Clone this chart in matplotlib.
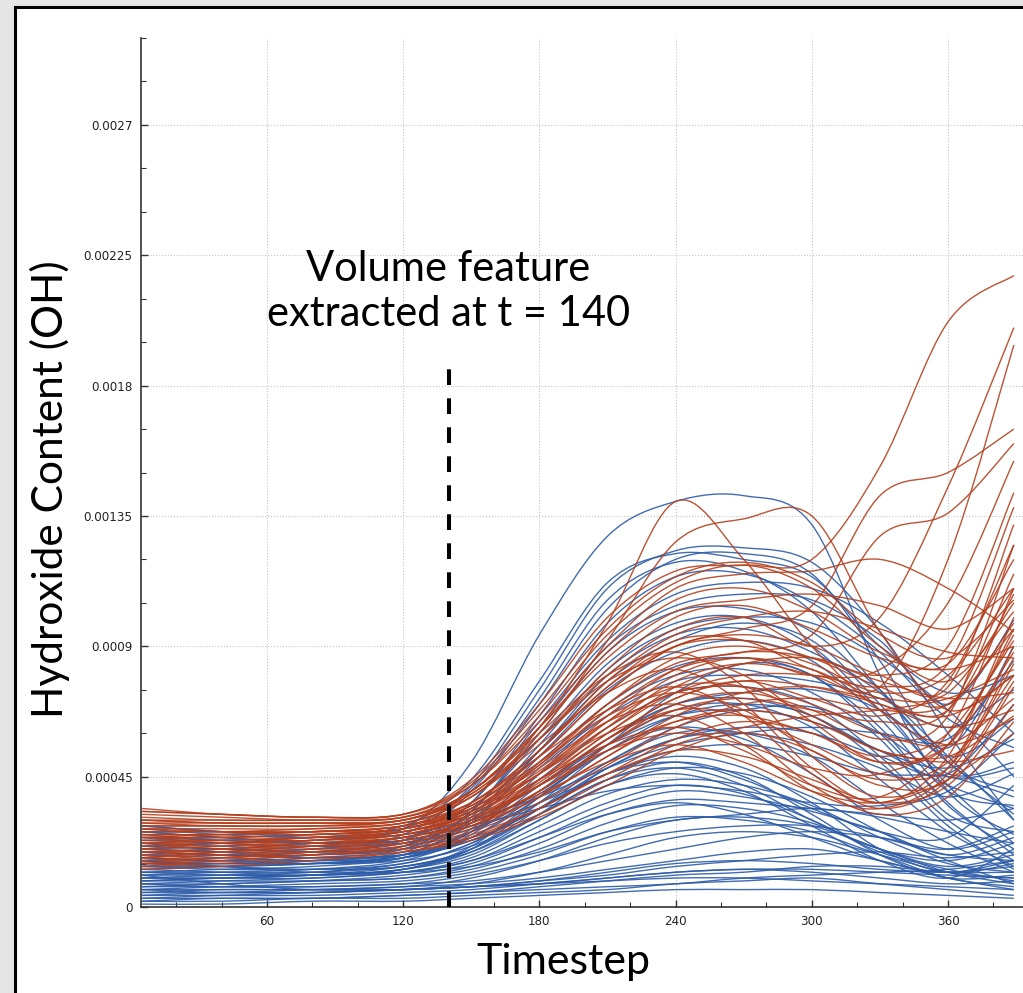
import numpy as np
import matplotlib
matplotlib.use("Agg")
import matplotlib.pyplot as plt
from matplotlib.path import Path
from matplotlib.patches import PathPatch, Rectangle
from matplotlib.ticker import FixedLocator, MultipleLocator

# ---------------- data (values in units of 1e-4) ----------------
timesteps = [5, 40, 80, 120, 150, 180, 210, 240, 270, 300, 330, 360, 389]
value_unit = 1e-4

blue_runs = [
    [2.6, 2.4, 2.3, 2.7, 5.0, 9.4, 12.8, 14.0, 14.2, 13.2, 8.0, 4.0, 2.5],
    [2.2, 2.0, 2.0, 2.5, 4.2, 7.5, 11.0, 12.3, 12.4, 11.9, 9.5, 6.0, 3.0],
    [2.0, 1.9, 1.9, 2.3, 4.0, 7.0, 10.3, 12.0, 12.2, 11.5, 8.5, 5.0, 4.0],
    [1.8, 1.8, 1.8, 2.1, 3.6, 6.6, 9.8, 11.4, 11.5, 10.5, 8.8, 6.5, 5.5],
    [2.4, 2.2, 2.1, 2.3, 3.6, 6.4, 9.2, 10.8, 11.2, 11.0, 9.8, 8.0, 6.0],
    [1.6, 1.6, 1.7, 2.0, 3.3, 6.0, 8.8, 10.2, 10.3, 9.5, 7.5, 5.5, 9.0],
    [1.5, 1.5, 1.6, 1.9, 3.1, 5.6, 8.2, 9.6, 10.0, 9.8, 8.6, 6.8, 4.5],
    [2.1, 2.0, 1.9, 2.1, 3.2, 5.4, 7.8, 9.2, 9.8, 9.2, 7.0, 4.2, 2.2],
    [1.3, 1.4, 1.5, 1.8, 2.9, 5.2, 7.5, 8.8, 9.2, 8.5, 6.5, 4.0, 3.5],
    [1.9, 1.8, 1.8, 2.0, 3.0, 5.0, 7.0, 8.3, 8.6, 8.0, 6.2, 3.5, 2.0],
    [1.2, 1.3, 1.4, 1.7, 2.7, 4.8, 6.6, 7.8, 8.0, 7.8, 7.2, 6.2, 7.5],
    [1.7, 1.6, 1.6, 1.8, 2.6, 4.4, 6.2, 7.4, 7.6, 7.0, 5.2, 3.0, 1.6],
    [1.1, 1.2, 1.3, 1.6, 2.5, 4.2, 5.8, 7.0, 7.4, 7.5, 6.8, 5.0, 3.2],
    [1.5, 1.5, 1.5, 1.7, 2.4, 3.9, 5.4, 6.6, 7.0, 6.6, 5.0, 2.8, 1.3],
    [1.0, 1.1, 1.2, 1.5, 2.2, 3.6, 5.0, 6.2, 6.8, 6.9, 6.0, 4.5, 4.8],
    [1.4, 1.3, 1.3, 1.5, 2.2, 3.4, 4.6, 5.2, 4.8, 3.6, 2.0, 1.2, 1.5],
    [0.9, 1.0, 1.1, 1.4, 2.0, 3.2, 4.4, 5.0, 4.5, 3.2, 1.8, 1.0, 1.1],
    [1.2, 1.2, 1.2, 1.4, 1.9, 3.0, 4.2, 4.6, 4.0, 2.8, 1.6, 1.0, 2.0],
    [0.8, 0.9, 1.0, 1.2, 1.7, 2.8, 3.9, 4.4, 4.2, 3.5, 2.4, 1.5, 1.2],
    [1.0, 1.0, 1.0, 1.2, 1.6, 2.6, 3.6, 4.2, 3.9, 3.0, 1.9, 1.3, 0.9],
    [0.7, 0.8, 0.9, 1.1, 1.5, 2.4, 3.4, 4.0, 3.8, 3.3, 2.6, 1.8, 2.4],
    [0.9, 0.9, 0.9, 1.0, 1.3, 2.0, 2.9, 3.5, 3.4, 2.9, 2.0, 1.4, 1.8],
    [0.6, 0.7, 0.8, 0.9, 1.2, 1.8, 2.6, 3.1, 3.0, 2.6, 1.8, 1.0, 0.7],
    [2.5, 2.3, 2.2, 2.3, 2.8, 3.4, 4.0, 4.2, 4.0, 3.6, 3.5, 4.0, 6.0],
    [2.8, 2.6, 2.4, 2.5, 3.0, 3.8, 4.8, 5.6, 6.0, 6.2, 6.0, 5.8, 8.5],
    [2.3, 2.2, 2.1, 2.2, 2.7, 3.6, 4.6, 5.4, 5.6, 5.2, 4.6, 4.5, 3.8],
    [0.5, 0.6, 0.6, 0.7, 0.8, 1.0, 1.3, 1.6, 1.9, 2.0, 1.6, 1.0, 0.6],
    [0.3, 0.4, 0.5, 0.6, 0.7, 0.9, 1.1, 1.4, 1.6, 1.8, 1.9, 1.7, 1.9],
    [0.4, 0.4, 0.4, 0.5, 0.6, 0.8, 1.0, 1.2, 1.3, 1.2, 1.0, 0.8, 0.9],
    [0.2, 0.2, 0.3, 0.3, 0.4, 0.5, 0.6, 0.8, 0.9, 1.0, 0.8, 0.6, 0.4],
    [0.1, 0.1, 0.2, 0.2, 0.3, 0.4, 0.5, 0.6, 0.6, 0.6, 0.5, 0.4, 0.3],
    [0.7, 0.7, 0.7, 0.8, 0.9, 1.2, 1.6, 2.0, 2.4, 2.6, 2.4, 2.0, 2.8],
    [0.6, 0.5, 0.5, 0.6, 0.7, 0.9, 1.2, 1.5, 1.6, 1.5, 1.3, 1.2, 1.4],
    [1.1, 0.8, 0.6, 0.6, 0.7, 0.8, 1.0, 1.2, 1.3, 1.3, 1.2, 1.1, 1.0],
    [0.3, 0.3, 0.3, 0.4, 0.5, 0.6, 0.7, 0.8, 1.0, 1.1, 1.2, 1.3, 1.6],
    [1.6, 1.4, 1.2, 1.2, 1.4, 1.9, 2.6, 3.0, 3.2, 3.4, 3.1, 2.6, 2.2],
    [2.0, 1.9, 1.7, 1.8, 2.4, 3.8, 5.6, 7.4, 8.4, 8.0, 6.0, 3.6, 1.8],
    [2.7, 2.5, 2.4, 2.7, 4.1, 7.2, 10.6, 11.9, 11.6, 10.2, 7.5, 5.2, 6.5],
    [1.3, 1.2, 1.1, 1.3, 2.0, 3.6, 5.4, 6.2, 5.8, 4.6, 3.0, 2.0, 2.6],
    [1.8, 1.7, 1.6, 1.7, 2.3, 3.4, 4.6, 5.0, 4.4, 3.4, 2.6, 2.4, 4.2],
    [0.8, 0.8, 0.9, 1.0, 1.4, 2.2, 3.2, 3.7, 3.6, 3.4, 3.2, 3.0, 3.4],
    [2.2, 2.1, 2.0, 2.2, 3.3, 6.2, 9.0, 10.4, 10.8, 10.6, 9.2, 7.0, 9.9],
    [2.6, 2.4, 2.2, 2.4, 3.4, 5.8, 8.4, 9.8, 10.0, 9.0, 6.8, 4.6, 5.0],
    [1.4, 1.4, 1.5, 1.8, 3.0, 5.4, 8.0, 9.4, 9.6, 8.8, 7.4, 5.2, 3.0],
    [1.0, 1.0, 1.1, 1.3, 2.1, 3.8, 5.6, 6.8, 7.0, 6.2, 4.4, 2.6, 1.4],
    [0.9, 1.0, 1.1, 1.3, 1.9, 3.2, 4.8, 5.8, 6.0, 5.6, 4.8, 3.8, 4.6],
    [1.7, 1.6, 1.5, 1.6, 2.1, 3.2, 4.4, 4.8, 4.2, 3.0, 2.0, 1.6, 2.2],
    [1.2, 1.1, 1.1, 1.2, 1.6, 2.4, 3.2, 3.6, 3.2, 2.4, 1.6, 1.2, 1.6],
    [0.5, 0.5, 0.6, 0.7, 1.0, 1.6, 2.4, 3.0, 3.1, 2.8, 2.0, 1.2, 0.8],
    [0.4, 0.5, 0.5, 0.6, 0.8, 1.2, 1.8, 2.4, 2.6, 2.4, 1.8, 1.2, 1.0],
    [2.4, 2.3, 2.2, 2.3, 2.9, 4.2, 5.6, 6.6, 6.8, 6.4, 5.4, 4.2, 3.4],
    [1.9, 1.8, 1.7, 1.8, 2.3, 3.4, 4.8, 5.8, 6.2, 6.0, 5.2, 4.6, 7.0],
    [0.2, 0.3, 0.3, 0.4, 0.5, 0.7, 0.9, 1.1, 1.2, 1.4, 1.4, 1.2, 1.2],
    [0.6, 0.6, 0.6, 0.6, 0.7, 0.8, 0.9, 1.0, 1.0, 0.9, 0.8, 0.7, 0.6],
    [1.5, 1.4, 1.3, 1.4, 2.0, 3.4, 5.0, 6.0, 6.0, 5.2, 3.6, 2.2, 1.2],
    [2.1, 2.0, 1.9, 2.0, 2.6, 4.0, 5.8, 7.0, 7.2, 6.6, 5.4, 4.8, 5.8],
    [1.1, 1.1, 1.1, 1.3, 1.8, 3.0, 4.2, 4.8, 4.6, 3.8, 2.6, 1.6, 0.8],
    [0.8, 0.7, 0.7, 0.8, 1.1, 1.6, 2.2, 2.6, 2.8, 2.8, 2.4, 1.8, 1.6],
    [2.8, 2.6, 2.5, 2.8, 4.4, 7.8, 11.2, 12.2, 12.0, 11.4, 9.0, 7.4, 8.0],
    [1.6, 1.5, 1.5, 1.7, 2.6, 4.6, 6.8, 8.0, 8.2, 7.4, 5.8, 3.2, 2.6],
]

red_runs = [
    [3.3, 3.2, 3.1, 3.2, 4.4, 7.0, 10.0, 11.6, 11.8, 12.0, 15.2, 20.2, 21.8],
    [3.2, 3.1, 3.0, 3.1, 4.0, 6.2, 9.8, 14.0, 12.0, 9.0, 6.8, 5.6, 6.5],
    [3.0, 2.9, 2.9, 3.0, 3.9, 6.0, 9.2, 12.6, 13.4, 13.5, 9.5, 6.8, 8.0],
    [2.8, 2.8, 2.8, 2.9, 3.8, 5.8, 8.0, 9.6, 10.0, 9.0, 10.0, 14.5, 20.0],
    [2.6, 2.6, 2.6, 2.8, 3.6, 5.4, 7.6, 9.2, 9.2, 8.2, 7.6, 12.0, 19.4],
    [2.5, 2.5, 2.6, 2.7, 3.5, 5.2, 7.4, 9.0, 9.6, 10.4, 14.2, 15.0, 16.5],
    [2.4, 2.4, 2.5, 2.7, 3.4, 5.0, 7.0, 8.4, 8.8, 9.4, 12.8, 13.6, 16.0],
    [2.3, 2.3, 2.4, 2.6, 3.2, 4.6, 6.4, 8.0, 8.6, 8.0, 8.2, 10.5, 15.4],
    [2.2, 2.2, 2.3, 2.5, 3.1, 4.4, 6.0, 7.6, 8.4, 8.6, 8.0, 9.0, 14.3],
    [2.0, 2.1, 2.2, 2.4, 3.0, 4.2, 5.8, 7.2, 7.8, 7.2, 6.6, 7.8, 12.5],
    [1.9, 2.0, 2.1, 2.3, 2.9, 4.0, 5.6, 6.8, 7.2, 6.8, 6.4, 6.8, 11.5],
    [1.8, 1.9, 2.0, 2.2, 2.8, 3.8, 5.2, 6.6, 7.4, 7.6, 7.2, 7.4, 10.5],
    [1.7, 1.8, 1.9, 2.1, 2.6, 3.6, 4.9, 6.2, 7.0, 7.2, 6.8, 7.0, 9.6],
    [1.6, 1.7, 1.8, 2.0, 2.5, 3.4, 4.6, 5.8, 6.4, 6.0, 5.0, 5.6, 8.8],
    [1.5, 1.6, 1.8, 2.0, 2.4, 3.2, 4.4, 5.6, 6.2, 6.6, 6.8, 7.2, 8.2],
    [1.4, 1.5, 1.7, 1.9, 2.3, 3.1, 4.2, 5.4, 6.0, 5.4, 4.2, 4.4, 7.6],
    [1.3, 1.4, 1.6, 1.9, 2.4, 3.4, 4.6, 5.4, 5.2, 4.4, 3.6, 4.2, 7.0],
    [3.1, 3.0, 3.0, 3.1, 4.0, 6.0, 8.0, 8.8, 7.6, 5.2, 3.8, 4.8, 9.0],
    [2.9, 2.8, 2.8, 3.0, 3.8, 5.6, 7.4, 8.2, 7.0, 4.8, 3.6, 5.2, 10.0],
    [2.7, 2.7, 2.7, 2.9, 3.6, 5.2, 6.8, 7.6, 6.6, 4.6, 3.4, 4.4, 7.8],
    [2.5, 2.5, 2.6, 2.8, 3.4, 4.8, 6.4, 7.0, 6.0, 4.2, 3.2, 3.8, 6.4],
    [2.3, 2.4, 2.5, 2.7, 3.3, 4.6, 6.0, 6.6, 5.6, 4.0, 3.4, 4.6, 8.4],
    [2.1, 2.2, 2.4, 2.6, 3.2, 4.4, 5.6, 6.2, 5.4, 4.2, 3.8, 5.6, 9.4],
    [2.0, 2.1, 2.3, 2.5, 3.1, 4.2, 5.4, 6.0, 5.6, 4.8, 4.6, 6.0, 11.0],
    [1.8, 2.0, 2.2, 2.4, 2.9, 3.9, 5.0, 5.6, 5.0, 4.0, 3.6, 4.4, 6.0],
    [3.0, 3.0, 3.0, 3.1, 4.2, 6.6, 9.4, 11.2, 11.8, 11.0, 9.0, 7.8, 10.2],
    [2.8, 2.8, 2.8, 3.0, 4.0, 6.2, 8.8, 10.6, 11.0, 10.2, 8.8, 8.4, 12.0],
    [2.6, 2.6, 2.7, 2.9, 3.8, 5.8, 8.2, 10.0, 10.4, 9.6, 8.6, 8.2, 9.0],
    [2.4, 2.5, 2.6, 2.8, 3.6, 5.4, 7.8, 9.4, 10.0, 10.2, 9.6, 8.8, 8.6],
    [2.2, 2.3, 2.4, 2.7, 3.5, 5.2, 7.4, 9.0, 9.4, 9.0, 8.0, 7.6, 13.2],
    [2.0, 2.2, 2.3, 2.6, 3.3, 4.9, 7.0, 8.6, 9.0, 8.4, 7.4, 8.0, 11.0],
    [1.9, 2.0, 2.2, 2.5, 3.2, 4.6, 6.6, 8.2, 8.8, 8.6, 7.8, 7.2, 7.4],
    [1.7, 1.9, 2.1, 2.4, 3.0, 4.4, 6.2, 7.8, 8.4, 8.0, 7.0, 6.6, 8.0],
    [1.6, 1.8, 2.0, 2.3, 2.9, 4.2, 5.8, 7.2, 7.8, 7.6, 7.0, 6.2, 6.8],
    [1.5, 1.7, 1.9, 2.2, 2.8, 4.0, 5.6, 7.0, 7.4, 6.8, 5.8, 6.6, 12.5],
    [3.3, 3.2, 3.1, 3.2, 4.2, 6.4, 9.0, 11.0, 11.5, 11.6, 12.0, 11.0, 9.5],
    [2.9, 2.9, 2.9, 3.0, 4.0, 6.2, 8.6, 10.2, 10.6, 10.8, 10.4, 9.6, 11.0],
    [1.4, 1.6, 1.8, 2.1, 2.7, 3.8, 5.2, 6.4, 6.8, 6.4, 5.4, 5.0, 5.4],
    [3.4, 3.2, 3.1, 3.2, 4.3, 6.8, 9.6, 11.4, 11.9, 11.2, 9.4, 8.6, 10.6],
    [2.7, 2.6, 2.6, 2.8, 3.6, 5.4, 7.6, 9.0, 9.2, 8.6, 7.6, 7.0, 9.8],
    [2.2, 2.3, 2.4, 2.6, 3.2, 4.6, 6.2, 7.4, 7.6, 7.0, 6.0, 5.6, 7.2],
    [1.9, 2.0, 2.2, 2.4, 3.0, 4.2, 5.8, 6.8, 6.6, 5.6, 4.6, 4.8, 8.6],
    [2.6, 2.6, 2.6, 2.8, 3.5, 5.0, 6.6, 7.4, 6.8, 5.4, 4.4, 5.0, 8.0],
    [3.0, 2.9, 2.9, 3.0, 3.9, 5.8, 7.8, 8.6, 8.0, 6.4, 5.0, 5.6, 9.6],
    [2.4, 2.4, 2.5, 2.7, 3.4, 4.9, 6.8, 8.2, 8.6, 8.2, 7.2, 6.8, 10.8],
    [1.7, 1.9, 2.1, 2.4, 3.0, 4.3, 6.0, 7.4, 8.0, 8.0, 7.6, 8.4, 13.8],
    [2.1, 2.2, 2.3, 2.6, 3.3, 4.7, 6.4, 7.6, 7.6, 6.6, 5.4, 5.2, 6.6],
    [1.6, 1.7, 1.9, 2.2, 2.8, 4.0, 5.4, 6.4, 6.6, 6.0, 5.2, 6.0, 9.2],
]

x_ticks = [60, 120, 180, 240, 300, 360]
y_ticks = [0, 0.00045, 0.0009, 0.00135, 0.0018, 0.00225, 0.0027]
y_tick_labels = ["0", "0.00045", "0.0009", "0.00135", "0.0018", "0.00225", "0.0027"]
feature_t = 140
feature_line_top = 0.00190

BLUE = "#2d5ca8"
RED = "#b4401f"


def smooth_path(xs, ys):
    pts = np.column_stack([xs, ys]).astype(float)
    n = len(pts)
    verts = [pts[0]]
    codes = [Path.MOVETO]
    for i in range(n - 1):
        p0 = pts[i - 1] if i > 0 else pts[i]
        p1 = pts[i]
        p2 = pts[i + 1]
        p3 = pts[i + 2] if i + 2 < n else pts[i + 1]
        c1 = p1 + (p2 - p0) / 6.0
        c2 = p2 - (p3 - p1) / 6.0
        verts += [c1, c2, p2]
        codes += [Path.CURVE4] * 3
    return Path(verts, codes)


fig = plt.figure(figsize=(10.23, 9.93), dpi=100, facecolor="#e6e6e6")
fig.patches.append(Rectangle((15 / 1023, -0.2), 1.5, 1.2 - 7 / 993,
                             transform=fig.transFigure, facecolor="white",
                             edgecolor="black", lw=2.2, zorder=-5))

ax = fig.add_axes([141 / 1023, 86 / 993, 897.8 / 1023, 869 / 993])
ax.set_xlim(4.5, 400)
ax.set_ylim(0, 0.003)
ax.set_facecolor("white")

for run in blue_runs:
    ax.add_patch(PathPatch(smooth_path(timesteps, np.array(run) * value_unit),
                           facecolor="none", edgecolor=BLUE, lw=1.0, alpha=0.9, zorder=3))
for run in red_runs:
    ax.add_patch(PathPatch(smooth_path(timesteps, np.array(run) * value_unit),
                           facecolor="none", edgecolor=RED, lw=1.0, alpha=0.9, zorder=3))

ax.plot([feature_t, feature_t], [0, feature_line_top], color="black", lw=2.9,
        ls=(0, (3.9, 3.3)), solid_capstyle="butt", dash_capstyle="butt", zorder=6)

ax.text(feature_t, 0.002125, "Volume feature\nextracted at t = 140", ha="center", va="center",
        fontsize=30, family="Lato", linespacing=1.25, zorder=7)

for s in ["top", "right"]:
    ax.spines[s].set_visible(False)
for s in ["left", "bottom"]:
    ax.spines[s].set_color("#333333")
    ax.spines[s].set_linewidth(1.2)

ax.xaxis.set_major_locator(FixedLocator(x_ticks))
ax.xaxis.set_minor_locator(MultipleLocator(20))
ax.set_yticks(y_ticks)
ax.set_yticklabels(y_tick_labels)
ax.yaxis.set_minor_locator(MultipleLocator(0.00015))
ax.tick_params(which="both", direction="in", colors="#333333", labelsize=8.6, labelcolor="#222222")
ax.tick_params(which="major", length=5, width=1)
ax.tick_params(which="minor", length=3.5, width=0.8)
ax.tick_params(axis="y", pad=6)
ax.tick_params(axis="x", pad=6)
ax.grid(True, which="major", ls=":", color="#c4c4c4", lw=0.8, zorder=0)
ax.set_axisbelow(True)

fig.text(50 / 1023, 1 - 489 / 993, "Hydroxide Content (OH)", rotation=90, ha="center", va="center",
         fontsize=30.5, family="Lato")
fig.text(563 / 1023, 1 - 962 / 993, "Timestep", ha="center", va="center", fontsize=31, family="Lato")

fig.savefig("out.png", dpi=100, facecolor=fig.get_facecolor())
